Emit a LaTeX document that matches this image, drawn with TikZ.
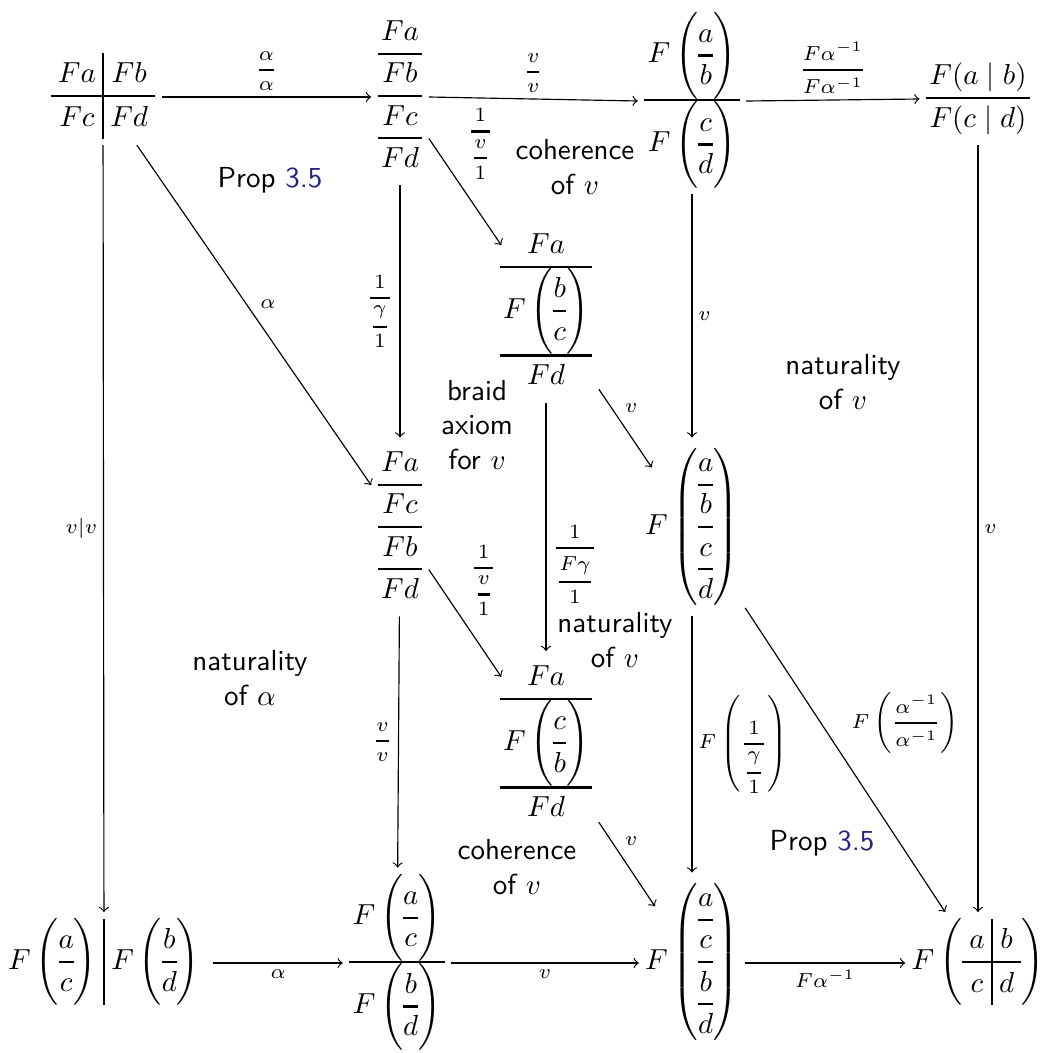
\documentclass[tikz,border=0pt]{standalone}
\usepackage{amsmath}
\usepackage{xcolor}
\usetikzlibrary{arrows,positioning}
\definecolor{LinkBlue}{RGB}{35,35,130}
\setlength{\arrayrulewidth}{0.7pt}
\newcommand{\vc}[2]{\genfrac{}{}{0.8pt}{0}{#1}{#2}}
\newcommand{\Fp}[1]{F\left(#1\right)}
% vertical stacks: outer (with a little overhang) and inner (inside brackets)
\newcommand{\col}[1]{{\renewcommand{\arraystretch}{1.15}%
  \begin{array}{@{\hspace{1.2pt}}c@{\hspace{1.2pt}}}#1\end{array}}}
\newcommand{\icol}[1]{{\renewcommand{\arraystretch}{1.15}%
  \begin{array}{@{}c@{}}#1\end{array}}}
\newcommand{\sq}[4]{{\renewcommand{\arraystretch}{1.2}\setlength{\arraycolsep}{2.5pt}%
  \begin{array}{c|c} #1 & #2 \\ \hline #3 & #4 \end{array}}}
\tikzset{
  obj/.style={anchor=mid, inner sep=2pt},
  lbl/.style={font=\scriptsize, inner sep=2pt},
  note/.style={font=\sffamily, align=center},
  arr/.style={->},
}

\begin{document}
\begin{tikzpicture}[x=0.345pt, y=-0.345pt]
\useasboundingbox (0,0) rectangle (1045,1053);

% objects
\node[obj] (A) at (103,97) {$\sq{Fa}{Fb}{Fc}{Fd}$};
\node[obj] (B) at (400,97) {$\col{Fa\\\hline Fb\\\hline Fc\\\hline Fd}$};
\node[obj] (C) at (692,101) {$\col{\Fp{\icol{a\\\hline b}}\\\hline \Fp{\icol{c\\\hline d}}}$};
\node[obj] (D) at (978,99) {$\col{F(a\mid b)\\\hline F(c\mid d)}$};
\node[obj] (E) at (546,312) {$\col{Fa\\\hline \Fp{\icol{b\\\hline c}}\\\hline Fd}$};
\node[obj] (F) at (400,528) {$\col{Fa\\\hline Fc\\\hline Fb\\\hline Fd}$};
\node[obj] (K) at (692,528) {$\Fp{\icol{a\\\hline b\\\hline c\\\hline d}}$};
\node[obj] (L) at (546,744) {$\col{Fa\\\hline \Fp{\icol{c\\\hline b}}\\\hline Fd}$};
\node[obj] (H) at (104,963) {${\setlength{\arraycolsep}{2.5pt}\begin{array}{c|c} \Fp{\icol{a\\\hline c}} & \Fp{\icol{b\\\hline d}} \end{array}}$};
\node[obj] (G) at (397,963) {$\col{\Fp{\icol{a\\\hline c}}\\\hline \Fp{\icol{b\\\hline d}}}$};
\node[obj] (I) at (692,963) {$\Fp{\icol{a\\\hline c\\\hline b\\\hline d}}$};
\node[obj] (J) at (978,963) {$\Fp{\sq abcd}$};

% arrows
\draw[arr] (A.mid east) -- node[lbl, above] {$\vc{\alpha}{\alpha}$} (B.mid west);
\draw[arr] (B.mid east) -- node[lbl, above] {$\vc vv$} (C.mid west);
\draw[arr] (C.mid east) -- node[lbl, above] {$\vc{F\alpha^{-1}}{F\alpha^{-1}}$} (D.mid west);
\draw[arr] (H.mid east) -- node[lbl, below] {$\alpha$} (G.mid west);
\draw[arr] (G.mid east) -- node[lbl, below] {$v$} (I.mid west);
\draw[arr] (I.mid east) -- node[lbl, below] {$F\alpha^{-1}$} (J.mid west);
\draw[arr] (A) -- node[lbl, left] {$v|v$} (H);
\draw[arr] (B) -- node[lbl, left] {$\vc{1}{\vc{\gamma}{1}}$} (F);
\draw[arr] (F) -- node[lbl, left] {$\vc vv$} (G);
\draw[arr] (C) -- node[lbl, right] {$v$} (K);
\draw[arr] (K) -- node[lbl, right] {$\Fp{\vc{1}{\vc{\gamma}{1}}}$} (I);
\draw[arr] (D) -- node[lbl, right] {$v$} (J);
\draw[arr] (E) -- node[lbl, right, pos=0.65] {$\vc{1}{\vc{F\gamma}{1}}$} (L);
\draw[arr] (A) -- node[lbl, above right] {$\alpha$} (F);
\draw[arr, shorten >=-5pt] (B) -- node[lbl, above right] {$\vc{1}{\vc v1}$} (E);
\draw[arr, shorten >=-5pt] (F) -- node[lbl, above right, pos=0.55] {$\vc{1}{\vc v1}$} (L);
\draw[arr, shorten >=-8pt] (E) -- node[lbl, above right] {$v$} (K);
\draw[arr, shorten >=-10pt] (L) -- node[lbl, above right] {$v$} (I);
\draw[arr] (K) -- node[lbl, above right] {$\Fp{\vc{\alpha^{-1}}{\alpha^{-1}}}$} (J);

% cell labels
\node[note] (n1) at (270,180) {Prop \textcolor{LinkBlue}{3.5}};
\node[note] (n2) at (575,167) {coherence\\of $v$};
\node[note] (n3) at (843,382) {naturality\\of $v$};
\node[note] (n4) at (477,425) {braid\\axiom\\for $v$};
\node[note] (n5) at (615,640) {naturality\\of $v$};
\node[note] (n6) at (250,678) {naturality\\of $\alpha$};
\node[note] (n7) at (517,867) {coherence\\of $v$};
\node[note] (n8) at (822,843) {Prop \textcolor{LinkBlue}{3.5}};
\end{tikzpicture}
\end{document}
